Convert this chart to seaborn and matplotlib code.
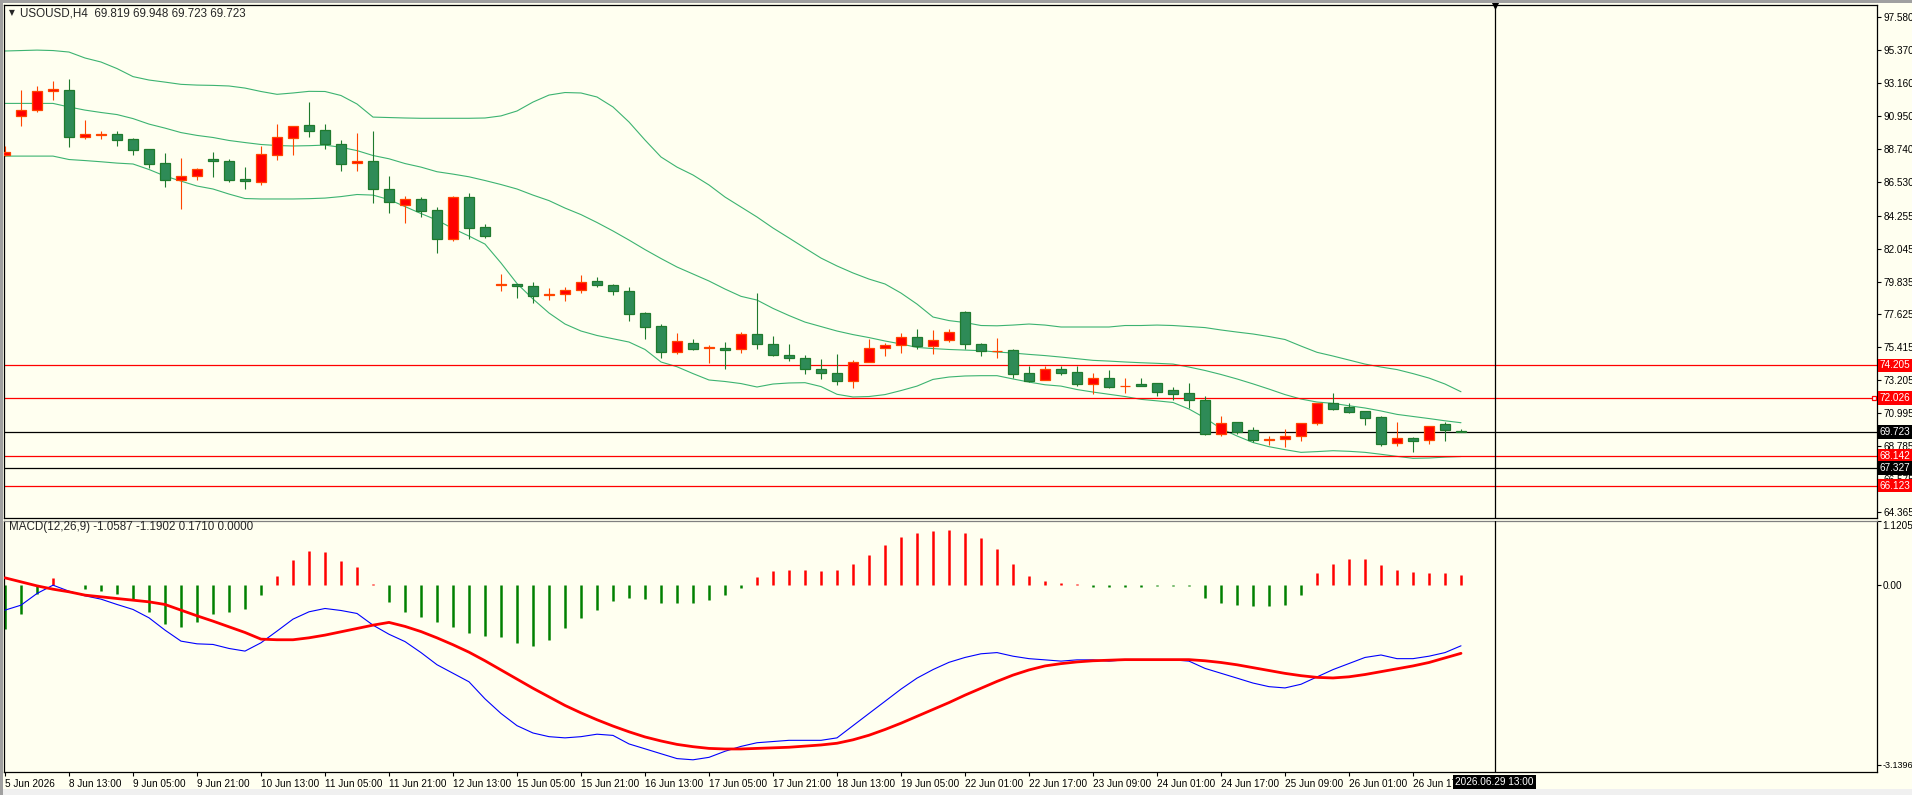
import numpy as np
import pandas as pd
import matplotlib
matplotlib.use("Agg")
import matplotlib.pyplot as plt
import matplotlib.transforms as mtransforms
from matplotlib.patches import Rectangle
import seaborn as sns

sns.set_style("white")
plt.rcParams["font.family"] = ["Liberation Sans", "DejaVu Sans"]

# USOUSD H4 candles
opens = [88.31, 90.97, 91.33, 92.61, 92.68, 89.52, 89.69, 89.72, 89.39, 88.71,
         87.77, 86.63, 86.90, 88.04, 87.91, 86.70, 86.54, 88.35, 89.49, 90.33,
         89.99, 89.05, 87.77, 87.93, 86.03, 84.95, 85.36, 84.62, 82.67, 85.49,
         83.47, 79.60, 79.65, 79.53, 78.93, 78.97, 79.24, 79.85, 79.58, 79.18,
         77.70, 76.82, 75.08, 75.68, 75.37, 75.37, 75.28, 76.29, 75.62, 74.88,
         74.68, 73.94, 73.67, 73.13, 74.41, 75.35, 75.55, 76.09, 75.48, 75.88,
         77.77, 75.62, 75.17, 75.21, 73.67, 73.20, 73.94, 73.73, 72.93, 73.33,
         72.82, 72.95, 73.00, 72.53, 72.32, 71.85, 69.61, 70.38, 69.84, 69.22,
         69.23, 69.44, 70.31, 71.67, 71.40, 71.14, 70.71, 68.97, 69.30, 69.17,
         70.24, 69.819]
highs = [88.94, 92.70, 92.97, 93.30, 93.44, 90.68, 89.96, 89.94, 89.45, 88.71,
         88.47, 88.13, 87.46, 88.53, 88.04, 87.50, 88.94, 90.41, 90.26, 91.89,
         90.41, 89.34, 89.81, 89.94, 86.92, 85.58, 85.51, 84.84, 85.58, 85.78,
         83.70, 80.34, 79.65, 79.80, 79.40, 79.46, 80.27, 80.14, 79.67, 79.46,
         77.77, 76.96, 76.37, 75.97, 75.57, 75.77, 76.44, 79.06, 76.15, 75.64,
         74.90, 74.63, 74.96, 74.56, 75.97, 75.68, 76.35, 76.62, 76.56, 76.64,
         77.85, 75.70, 76.02, 75.28, 74.18, 74.18, 74.18, 74.18, 73.67, 73.89,
         73.35, 73.35, 73.00, 72.73, 73.02, 72.14, 70.80, 70.38, 70.04, 69.46,
         69.91, 70.31, 71.65, 72.34, 71.67, 71.14, 70.80, 70.40, 69.37, 70.11,
         70.42, 69.948]
lows = [88.28, 90.30, 91.24, 92.05, 88.89, 89.39, 89.43, 88.96, 88.35, 87.44,
        86.20, 84.72, 86.63, 86.87, 86.54, 86.07, 86.34, 88.02, 88.35, 89.56,
        88.75, 87.28, 87.28, 85.13, 84.45, 83.78, 84.19, 81.77, 82.57, 82.71,
        82.76, 79.22, 78.75, 78.41, 78.61, 78.54, 79.08, 79.48, 78.95, 77.20,
        75.99, 74.72, 74.94, 75.25, 74.38, 73.98, 75.05, 75.30, 74.85, 74.51,
        73.64, 73.31, 72.90, 72.70, 74.41, 74.85, 75.05, 75.28, 74.94, 75.75,
        75.30, 74.85, 74.72, 73.37, 73.10, 73.20, 73.57, 72.83, 72.30, 72.70,
        72.36, 72.83, 72.16, 71.89, 71.34, 69.52, 69.48, 69.61, 69.03, 68.85,
        68.72, 69.14, 70.22, 71.22, 71.02, 70.22, 68.80, 68.78, 68.40, 68.90,
        69.14, 69.723]
closes = [88.51, 91.33, 92.61, 92.74, 89.52, 89.72, 89.74, 89.36, 88.69, 87.75,
          86.63, 86.90, 87.37, 87.91, 86.67, 86.56, 88.38, 89.52, 90.26, 89.96,
          89.05, 87.75, 87.91, 86.03, 85.19, 85.36, 84.59, 82.67, 85.49, 83.45,
          82.87, 79.64, 79.51, 78.88, 78.97, 79.24, 79.78, 79.58, 79.18, 77.67,
          76.80, 75.08, 75.82, 75.32, 75.41, 75.25, 76.29, 75.62, 74.92, 74.68,
          73.94, 73.67, 73.13, 74.41, 75.35, 75.55, 76.09, 75.48, 75.88, 76.42,
          75.62, 75.15, 75.20, 73.64, 73.17, 73.94, 73.71, 72.93, 73.33, 72.77,
          72.85, 72.83, 72.43, 72.30, 71.85, 69.61, 70.31, 69.70, 69.21, 69.25,
          69.44, 70.31, 71.65, 71.29, 71.09, 70.69, 68.94, 69.30, 69.14, 70.11,
          69.84, 69.723]

# Bollinger bands
bb_upper = [95.32, 95.35, 95.38, 95.35, 95.25, 94.85, 94.58, 94.14, 93.60, 93.37,
            93.23, 93.08, 93.03, 93.01, 92.97, 92.83, 92.60, 92.41, 92.50, 92.61,
            92.60, 92.33, 91.76, 90.88, 90.85, 90.82, 90.80, 90.80, 90.80, 90.80,
            90.82, 90.96, 91.29, 91.89, 92.36, 92.53, 92.50, 92.23, 91.56, 90.55,
            89.34, 88.20, 87.52, 86.99, 86.32, 85.51, 84.84, 84.17, 83.43, 82.76,
            82.08, 81.41, 80.88, 80.41, 80.00, 79.67, 79.06, 78.32, 77.45, 77.21,
            77.08, 76.88, 76.86, 76.91, 76.98, 76.91, 76.78, 76.78, 76.78, 76.78,
            76.88, 76.88, 76.91, 76.88, 76.81, 76.74, 76.58, 76.44, 76.31, 76.14,
            75.94, 75.50, 75.08, 74.83, 74.56, 74.29, 74.09, 73.92, 73.65, 73.35,
            72.95, 72.43]
bb_middle = [91.80, 91.80, 91.80, 91.80, 91.56, 91.35, 91.19, 91.05, 90.78, 90.41,
             90.14, 89.84, 89.65, 89.51, 89.31, 89.17, 89.04, 88.97, 88.94, 88.96,
             89.00, 88.85, 88.63, 88.30, 88.08, 87.76, 87.52, 87.21, 87.05, 86.87,
             86.62, 86.35, 86.05, 85.64, 85.27, 84.77, 84.33, 83.80, 83.23, 82.62,
             81.98, 81.38, 80.81, 80.34, 79.87, 79.33, 78.84, 78.59, 78.03, 77.55,
             77.11, 76.81, 76.51, 76.27, 76.07, 75.84, 75.64, 75.41, 75.33, 75.27,
             75.23, 75.19, 75.10, 75.03, 74.94, 74.86, 74.76, 74.65, 74.54, 74.49,
             74.43, 74.38, 74.34, 74.29, 74.09, 73.86, 73.59, 73.29, 72.96, 72.61,
             72.24, 71.94, 71.74, 71.65, 71.49, 71.34, 71.14, 70.91, 70.77, 70.63,
             70.48, 70.35]
bb_lower = [88.26, 88.26, 88.26, 88.26, 88.03, 87.96, 87.88, 87.79, 87.73, 87.36,
            86.92, 86.58, 86.25, 86.05, 85.71, 85.41, 85.38, 85.38, 85.38, 85.40,
            85.44, 85.54, 85.68, 85.64, 85.34, 84.87, 84.40, 83.96, 83.39, 82.89,
            82.35, 81.08, 79.70, 78.66, 77.72, 76.98, 76.51, 76.21, 75.99, 75.77,
            75.27, 74.43, 74.11, 73.65, 73.22, 73.12, 72.98, 72.75, 72.95, 73.02,
            73.04, 72.78, 72.26, 72.08, 72.11, 72.24, 72.51, 72.81, 73.26, 73.42,
            73.49, 73.51, 73.51, 73.29, 73.08, 72.90, 72.81, 72.58, 72.41, 72.26,
            72.11, 71.92, 71.82, 71.71, 71.27, 70.67, 69.95, 69.46, 69.02, 68.74,
            68.54, 68.36, 68.41, 68.47, 68.43, 68.36, 68.23, 68.09, 67.96, 67.98,
            68.04, 68.08]

# MACD(12,26,9) window
macd_hist = [-0.77, -0.50, -0.157, 0.128, 0.01, -0.07, -0.105, -0.157, -0.267, -0.465,
             -0.675, -0.727, -0.64, -0.506, -0.471, -0.424, -0.174, 0.157, 0.436, 0.599,
             0.576, 0.419, 0.314, 0.017, -0.29, -0.474, -0.56, -0.645, -0.73, -0.836,
             -0.879, -0.90, -1.006, -1.07, -0.964, -0.751, -0.581, -0.432, -0.283, -0.219,
             -0.24, -0.304, -0.304, -0.304, -0.262, -0.177, -0.05, 0.143, 0.249, 0.27,
             0.27, 0.249, 0.27, 0.377, 0.526, 0.696, 0.845, 0.909, 0.951, 0.972,
             0.909, 0.823, 0.632, 0.377, 0.164, 0.079, 0.036, 0.015, -0.028, -0.028,
             -0.028, -0.028, -0.017, -0.006, -0.006, -0.219, -0.304, -0.347, -0.368, -0.368,
             -0.347, -0.177, 0.206, 0.377, 0.462, 0.462, 0.355, 0.27, 0.228, 0.206,
             0.206, 0.171]
macd_main = [-0.436, -0.349, -0.145, 0.0, -0.105, -0.186, -0.244, -0.337, -0.424, -0.570,
             -0.785, -0.977, -1.024, -1.035, -1.105, -1.151, -1.006, -0.802, -0.593, -0.465,
             -0.407, -0.442, -0.494, -0.698, -0.857, -0.985, -1.177, -1.389, -1.538, -1.687,
             -1.985, -2.240, -2.453, -2.581, -2.645, -2.666, -2.645, -2.602, -2.623, -2.772,
             -2.857, -2.943, -3.028, -3.049, -3.006, -2.900, -2.815, -2.751, -2.730, -2.709,
             -2.709, -2.709, -2.666, -2.453, -2.240, -2.028, -1.815, -1.623, -1.474, -1.347,
             -1.262, -1.198, -1.177, -1.240, -1.283, -1.304, -1.326, -1.304, -1.304, -1.326,
             -1.304, -1.304, -1.304, -1.304, -1.326, -1.453, -1.538, -1.623, -1.709, -1.772,
             -1.794, -1.730, -1.602, -1.474, -1.368, -1.262, -1.219, -1.283, -1.283, -1.240,
             -1.177, -1.0587]
macd_signal = [0.128, 0.058, -0.012, -0.070, -0.116, -0.174, -0.203, -0.233, -0.262, -0.291,
               -0.337, -0.436, -0.535, -0.628, -0.727, -0.826, -0.942, -0.953, -0.953, -0.919,
               -0.872, -0.814, -0.756, -0.698, -0.65, -0.72, -0.81, -0.92, -1.04, -1.17,
               -1.32, -1.48, -1.64, -1.80, -1.95, -2.10, -2.23, -2.35, -2.46, -2.56,
               -2.65, -2.72, -2.78, -2.82, -2.85, -2.86, -2.86, -2.85, -2.84, -2.83,
               -2.81, -2.79, -2.76, -2.70, -2.62, -2.52, -2.41, -2.29, -2.17, -2.05,
               -1.92, -1.80, -1.68, -1.57, -1.48, -1.41, -1.37, -1.34, -1.32, -1.31,
               -1.30, -1.30, -1.30, -1.30, -1.30, -1.32, -1.35, -1.39, -1.44, -1.49,
               -1.54, -1.58, -1.61, -1.62, -1.60, -1.56, -1.51, -1.46, -1.41, -1.35,
               -1.27, -1.1902]

time_labels = ["5 Jun 2026", "8 Jun 13:00", "9 Jun 05:00", "9 Jun 21:00", "10 Jun 13:00",
               "11 Jun 05:00", "11 Jun 21:00", "12 Jun 13:00", "15 Jun 05:00", "15 Jun 21:00",
               "16 Jun 13:00", "17 Jun 05:00", "17 Jun 21:00", "18 Jun 13:00", "19 Jun 05:00",
               "22 Jun 01:00", "22 Jun 17:00", "23 Jun 09:00", "24 Jun 01:00", "24 Jun 17:00",
               "25 Jun 09:00", "26 Jun 01:00", "26 Jun 17:00"]
price_ticks = [97.580, 95.370, 93.160, 90.950, 88.740, 86.530, 84.255, 82.045, 79.835,
               77.625, 75.415, 73.205, 70.995, 68.785, 66.575, 64.365]
red_levels = [74.205, 72.026, 68.142, 66.123]
black_levels = [69.723, 67.327]
cross_bar = 93.1
cross_time = "2026.06.29 13:00"

W, H = 1912, 795
BG = "#FFFFF0"
FS = 7.2
FS_CAP = 8.4


def frac(x0, y0, x1, y1):
    return [x0 / W, 1 - y1 / H, (x1 - x0) / W, (y1 - y0) / H]


df = pd.DataFrame({"bar": np.arange(len(closes)), "open": opens, "high": highs,
                   "low": lows, "close": closes, "bb_up": bb_upper, "bb_mid": bb_middle,
                   "bb_low": bb_lower, "hist": macd_hist, "macd": macd_main,
                   "signal": macd_signal})

fig = plt.figure(figsize=(W / 100, H / 100), dpi=100, facecolor=BG)
ax = fig.add_axes(frac(4, 5, 1877, 518), facecolor=BG)
axm = fig.add_axes(frac(4, 521, 1877, 772), facecolor=BG, sharex=ax)

# bands
for col in ["bb_up", "bb_mid", "bb_low"]:
    sns.lineplot(data=df, x="bar", y=col, ax=ax, color="#3CB371", lw=0.8, zorder=2)

# candles (red = up, green = down)
up = df["close"] >= df["open"]
body_col = np.where(up, "#FF0000", "#2E8B57")
edge_col = np.where(up, "#FF4500", "#1F7A2E")
ax.vlines(df["bar"], df["low"], df["high"], colors=edge_col, lw=0.8, zorder=3)
ax.bar(df["bar"], np.maximum((df["close"] - df["open"]).abs(), 0.02),
       bottom=np.minimum(df["open"], df["close"]), width=0.6,
       color=body_col, edgecolor=edge_col, linewidth=0.9, zorder=4)

for lv in red_levels:
    ax.axhline(lv, color="#FF0000", lw=0.9, zorder=2.5)
for lv in black_levels:
    ax.axhline(lv, color="black", lw=0.9, zorder=2.5)
ax.axvline(cross_bar, color="black", lw=0.9, zorder=5)
axm.axvline(cross_bar, color="black", lw=0.9, zorder=5)

ax.set_xlim(-0.0625, 117.0)
ax.set_ylim(63.95, 98.41)
ax.plot([116.8], [red_levels[1]], marker="s", ms=3.5, mfc="white", mec="#FF0000",
        mew=0.9, zorder=6)
ax.plot([cross_bar], [98.41], marker="v", ms=5, color="black", clip_on=False, zorder=6)

# MACD
hist_col = np.where(df["hist"] >= 0, "#FF0000", "#008000")
axm.vlines(df["bar"], 0, df["hist"], colors=hist_col, lw=1.8, zorder=2)
sns.lineplot(data=df, x="bar", y="macd", ax=axm, color="#0000FF", lw=0.8, zorder=3)
sns.lineplot(data=df, x="bar", y="signal", ax=axm, color="#FF0000", lw=2.0, zorder=4)
axm.set_ylim(-3.262, 1.1205)

for a in (ax, axm):
    a.set_xlabel("")
    a.set_ylabel("")
    a.yaxis.tick_right()
    for s in a.spines.values():
        s.set_color("black")
        s.set_linewidth(0.9)
    a.tick_params(axis="y", which="both", direction="out", length=3, width=0.8,
                  pad=2, labelsize=FS, colors="black", left=False, right=True)
axm.spines["top"].set_color("#808080")
axm.tick_params(axis="y", pad=1)

ax.set_yticks(price_ticks)
ax.set_yticklabels([f"{v:.3f}" for v in price_ticks])
ax.tick_params(axis="x", bottom=False, labelbottom=False)

axm.set_yticks([1.1205, 0.0, -3.1396])
axm.set_yticklabels(["1.1205", "0.00", "-3.1396"])
axm.get_yticklabels()[0].set_va("top")
axm.get_yticklabels()[2].set_fontsize(6.5)
axm.set_xticks(df["bar"].values[::4][:len(time_labels)])
axm.set_xticklabels(time_labels, ha="left")
axm.tick_params(axis="x", direction="out", length=3, width=0.8, pad=2, labelsize=FS,
                bottom=True, colors="black")

# price labels on the scale
trans = mtransforms.blended_transform_factory(ax.transAxes, ax.transData)
for lv in red_levels:
    ax.text(1.0016, lv, f"{lv:.3f}", transform=trans, ha="left", va="center",
            color="white", fontsize=FS, clip_on=False, zorder=10,
            bbox=dict(boxstyle="square,pad=0.18", fc="#FF0000", ec="none"))
for lv in black_levels:
    ax.text(1.0016, lv, f"{lv:.3f}", transform=trans, ha="left", va="center",
            color="white", fontsize=FS, clip_on=False, zorder=10,
            bbox=dict(boxstyle="square,pad=0.18", fc="black", ec="none"))

transm = mtransforms.blended_transform_factory(axm.transData, axm.transAxes)
axm.text(cross_bar, -0.04, cross_time, transform=transm, ha="center", va="center",
         color="white", fontsize=FS, clip_on=False, zorder=10,
         bbox=dict(boxstyle="square,pad=0.2", fc="black", ec="none"))

# window captions
fig.text(9 / W, 1 - 13 / H, "\u25bc", fontsize=5.5, va="center", ha="left",
         family=["DejaVu Sans"])
fig.text(20 / W, 1 - 13 / H,
         f"USOUSD,H4  {opens[-1]:.3f} {highs[-1]:.3f} {lows[-1]:.3f} {closes[-1]:.3f}",
         fontsize=FS_CAP, va="center", ha="left")
fig.text(9 / W, 1 - 527 / H,
         f"MACD(12,26,9) {macd_main[-1]:.4f} {macd_signal[-1]:.4f} {macd_hist[-1]:.4f} 0.0000",
         fontsize=FS_CAP, va="center", ha="left")

fig.patches.append(Rectangle((0, 0), 1, 6 / H, transform=fig.transFigure,
                             fc="#F0F0F0", ec="none", zorder=0))
fig.patches.append(Rectangle((0, 0), 3 / W, 1, transform=fig.transFigure,
                             fc="#A0A0A0", ec="none", zorder=0))
fig.patches.append(Rectangle((0, 1 - 3 / H), 1, 3 / H, transform=fig.transFigure,
                             fc="#A0A0A0", ec="none", zorder=0))

fig.savefig("out.png", dpi=100, facecolor=BG)
